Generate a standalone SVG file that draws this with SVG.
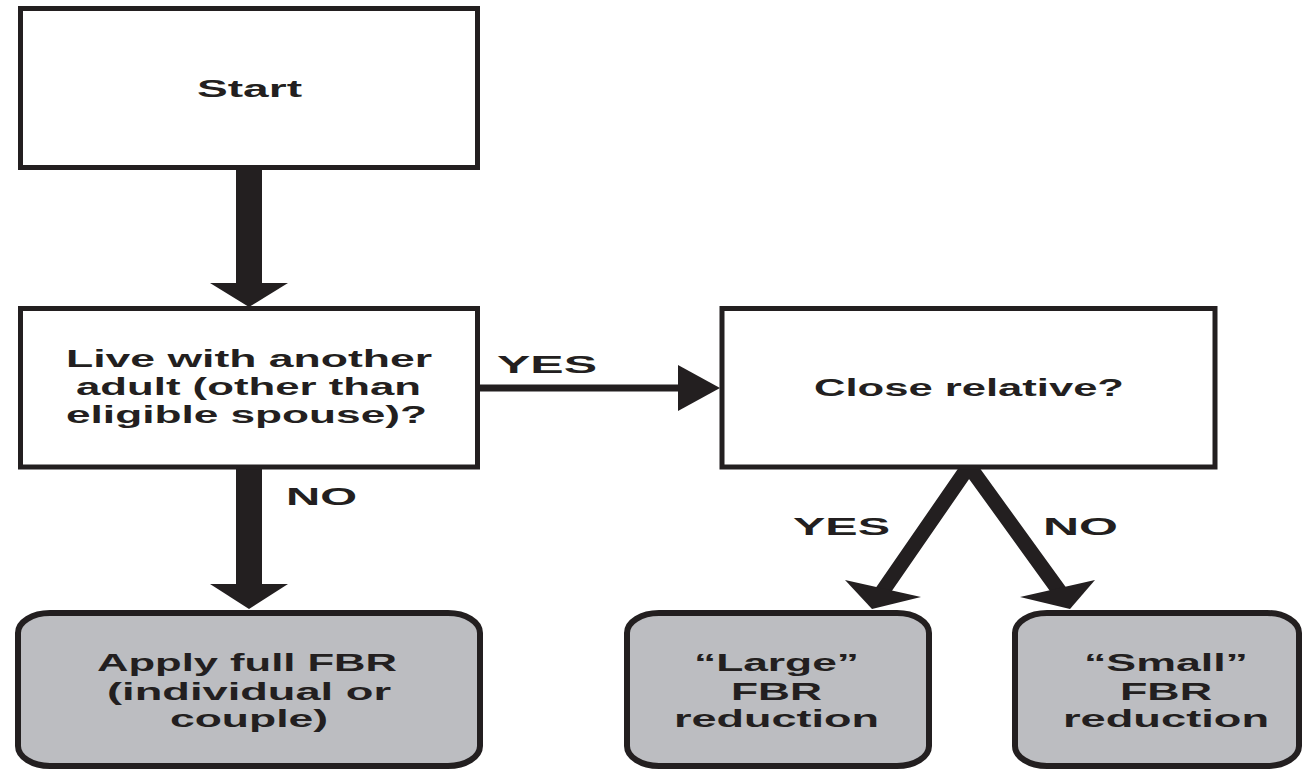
<svg xmlns="http://www.w3.org/2000/svg" width="1303" height="769" viewBox="0 0 1303 769">
<defs>
<style>
.box{fill:#ffffff;stroke:#231f20;stroke-width:5}
.term{fill:#bcbdc1;stroke:#231f20;stroke-width:6}
.shaft{fill:#231f20}
.line{fill:none;stroke:#231f20}
.head{fill:#231f20}
.t{font-family:"Liberation Sans",Arial,Helvetica,sans-serif;font-weight:bold;font-size:23px;fill:#231f20}
</style>
</defs>
<rect width="1303" height="769" fill="#ffffff"/>
<g id="connectors">
<rect class="shaft" x="236" y="168" width="26" height="117"/>
<polygon class="head" points="210,283 288,283 249,307"/>
<rect class="shaft" x="236" y="467" width="26" height="119"/>
<polygon class="head" points="210,584 288,584 249,609"/>
<line class="line" x1="479" y1="388" x2="682" y2="388" stroke-width="7"/>
<polygon class="head" points="678,365 678,411 720,388"/>
<path class="line" d="M882,592 L969,466 L1060,592" stroke-width="15" stroke-linejoin="miter" stroke-miterlimit="10"/>
<polygon class="head" points="845,580 921,597 872,609"/>
<polygon class="head" points="1095,580 1020,597 1070,609"/>
<text class="t" x="497" y="373" textLength="100" lengthAdjust="spacingAndGlyphs">YES</text>
<text class="t" x="286" y="505" textLength="71" lengthAdjust="spacingAndGlyphs">NO</text>
<text class="t" x="793" y="535" textLength="97" lengthAdjust="spacingAndGlyphs">YES</text>
<text class="t" x="1043" y="535" textLength="75" lengthAdjust="spacingAndGlyphs">NO</text>
</g>
<g id="start">
<rect class="box" x="20.5" y="8.5" width="457" height="159"/>
<text class="t" x="197" y="97" textLength="105" lengthAdjust="spacingAndGlyphs">Start</text>
</g>
<g id="live-with-adult">
<rect class="box" x="20.5" y="308.5" width="457" height="158.5"/>
<text class="t" x="66" y="367" textLength="366" lengthAdjust="spacingAndGlyphs">Live with another</text>
<text class="t" x="76" y="395" textLength="345" lengthAdjust="spacingAndGlyphs">adult (other than</text>
<text class="t" x="66" y="423" textLength="361" lengthAdjust="spacingAndGlyphs">eligible spouse)?</text>
</g>
<g id="close-relative">
<rect class="box" x="722" y="308.5" width="493" height="158.5"/>
<text class="t" x="814" y="396" textLength="310" lengthAdjust="spacingAndGlyphs">Close relative?</text>
</g>
<g id="apply-full">
<rect class="term" x="18" y="613" width="462" height="153" rx="32" ry="20"/>
<text class="t" x="97" y="671" textLength="300" lengthAdjust="spacingAndGlyphs">Apply full FBR</text>
<text class="t" x="107" y="700" textLength="284" lengthAdjust="spacingAndGlyphs">(individual or</text>
<text class="t" x="170" y="727" textLength="158" lengthAdjust="spacingAndGlyphs">couple)</text>
</g>
<g id="large-reduction">
<rect class="term" x="627" y="613" width="302" height="153" rx="32" ry="20"/>
<text class="t" x="694" y="671" textLength="165" lengthAdjust="spacingAndGlyphs">“Large”</text>
<text class="t" x="731" y="700" textLength="91" lengthAdjust="spacingAndGlyphs">FBR</text>
<text class="t" x="674" y="727" textLength="205" lengthAdjust="spacingAndGlyphs">reduction</text>
</g>
<g id="small-reduction">
<rect class="term" x="1015" y="613" width="284" height="153" rx="32" ry="20"/>
<text class="t" x="1084" y="671" textLength="164" lengthAdjust="spacingAndGlyphs">“Small”</text>
<text class="t" x="1120" y="700" textLength="92" lengthAdjust="spacingAndGlyphs">FBR</text>
<text class="t" x="1063" y="727" textLength="206" lengthAdjust="spacingAndGlyphs">reduction</text>
</g>
</svg>
